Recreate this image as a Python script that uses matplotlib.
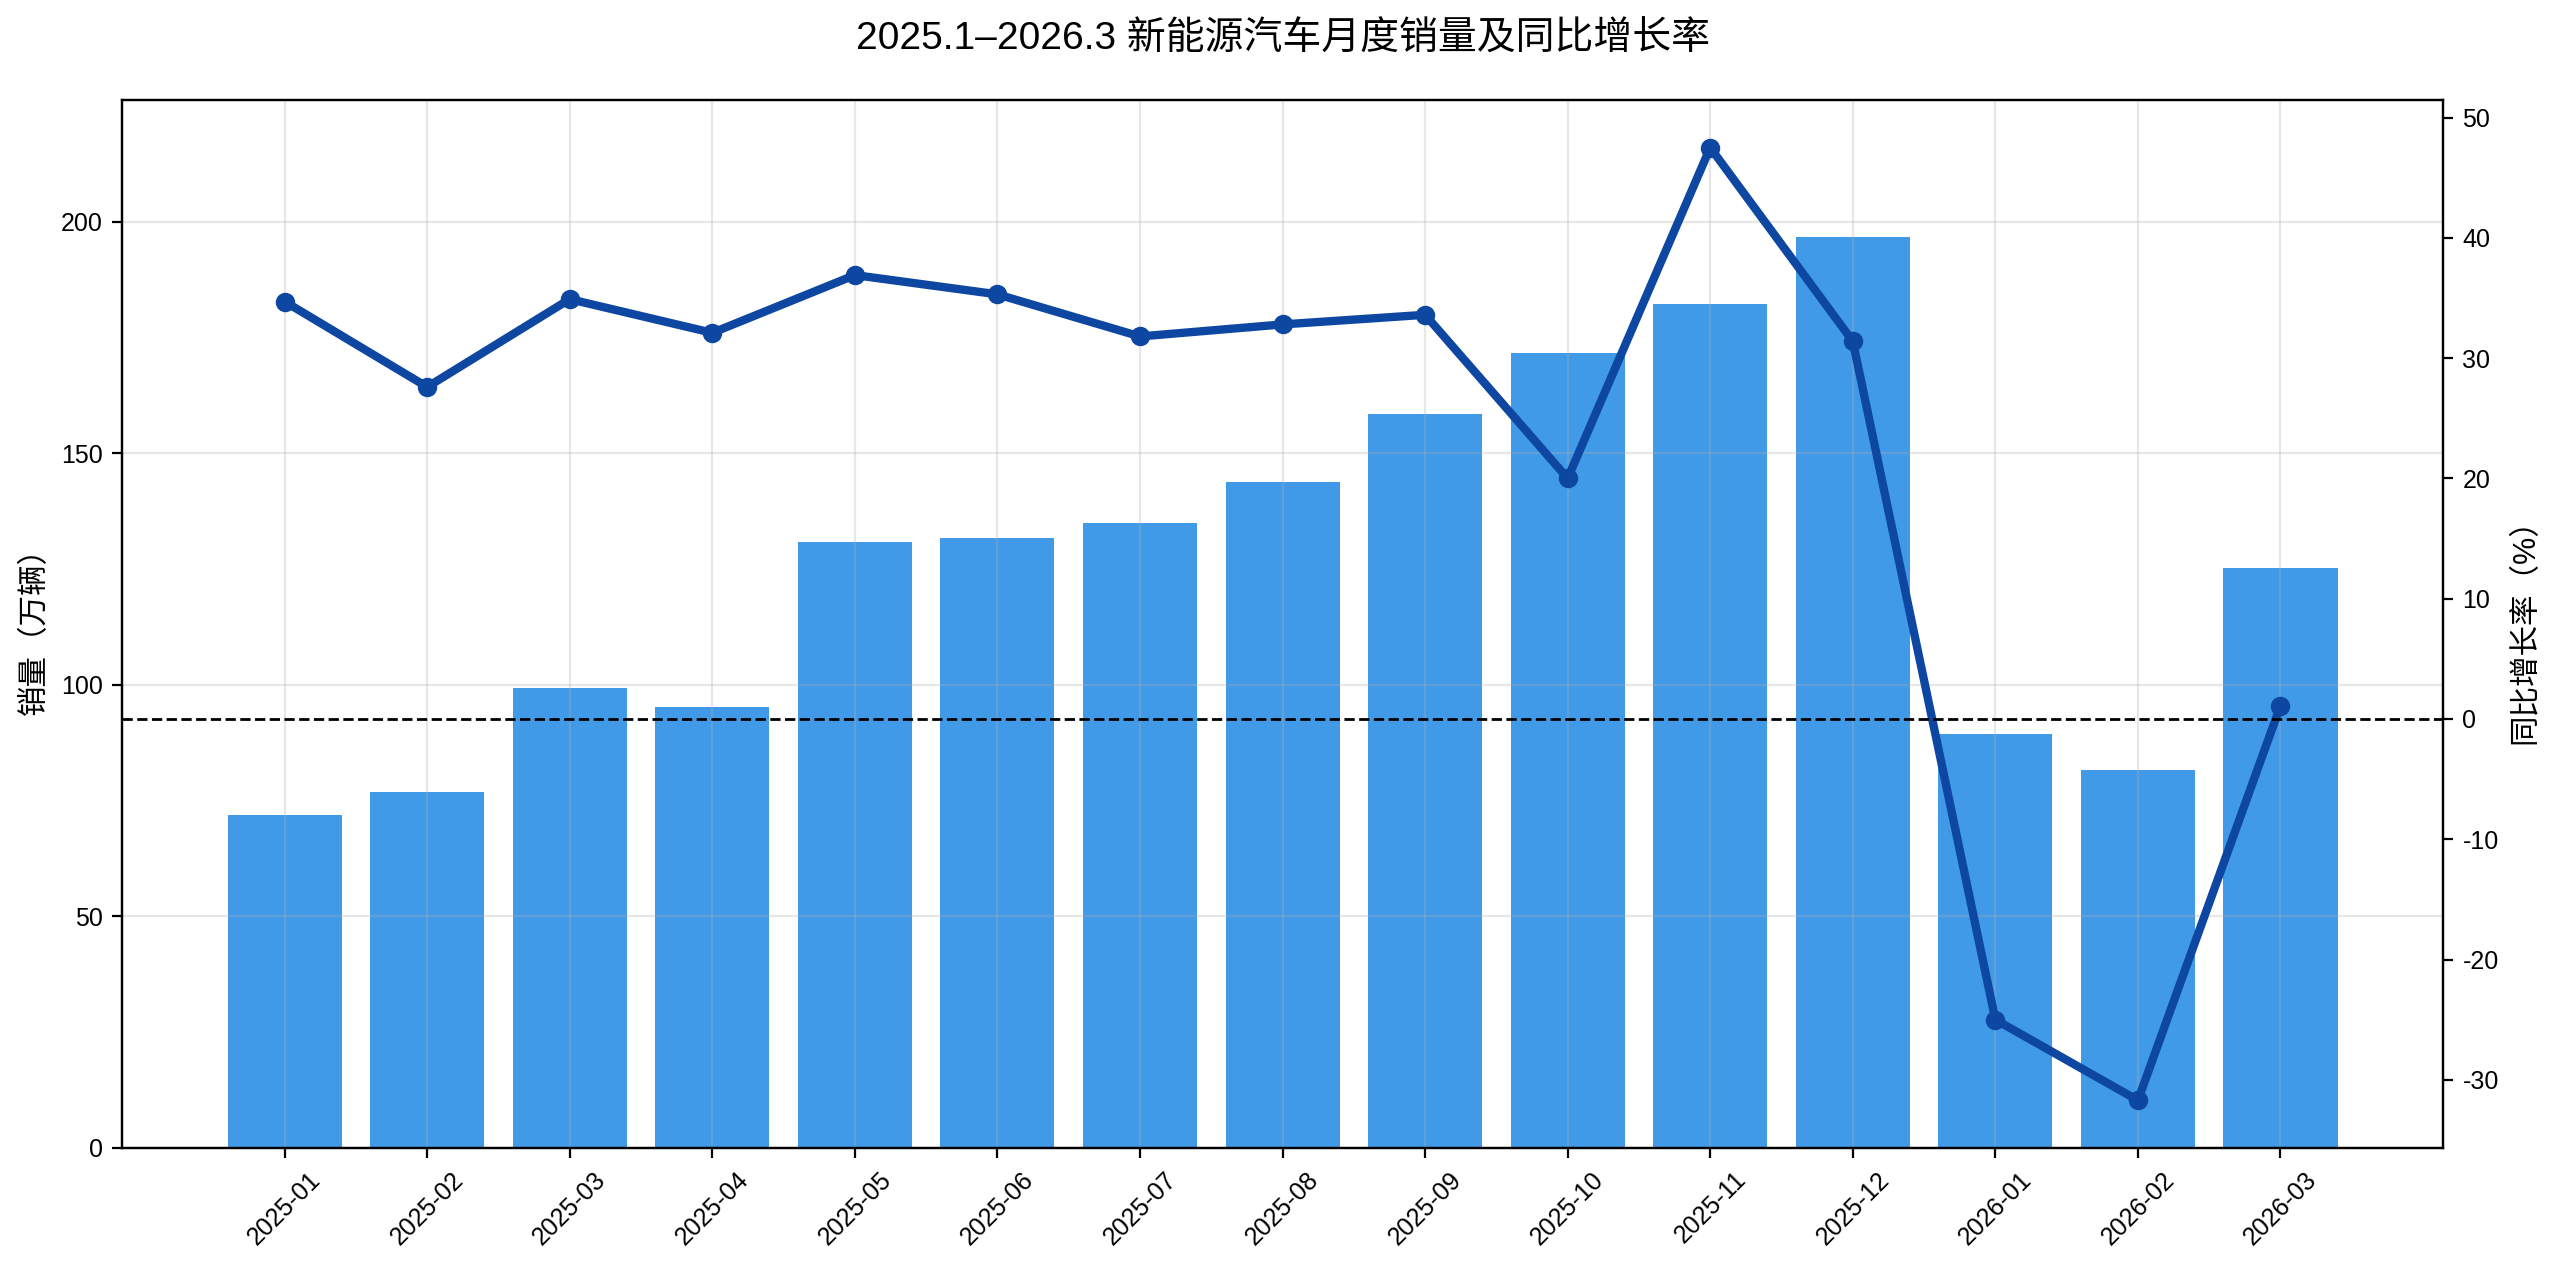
import matplotlib
matplotlib.use("Agg")
import matplotlib.pyplot as plt

plt.rcParams['font.family'] = ['Liberation Sans', 'Noto Sans CJK SC', 'DejaVu Sans']
plt.rcParams['axes.unicode_minus'] = False

months = ['2025-01', '2025-02', '2025-03', '2025-04', '2025-05', '2025-06', '2025-07',
          '2025-08', '2025-09', '2025-10', '2025-11', '2025-12', '2026-01', '2026-02', '2026-03']
sales = [71.8, 76.9, 99.3, 95.2, 130.8, 131.7, 134.9, 143.8, 158.4, 171.6, 182.3, 196.8,
         89.4, 81.6, 125.2]
yoy = [34.7, 27.6, 34.9, 32.1, 36.9, 35.3, 31.8, 32.8, 33.6, 20.0, 47.5, 31.4,
       -25.0, -31.7, 1.1]

title = '2025.1–2026.3 新能源汽车月度销量及同比增长率'
ylabel_left = '销量（万辆）'
ylabel_right = '同比增长率（%）'

fig = plt.figure(figsize=(12.8, 6.35), dpi=200)
ax1 = fig.add_axes([0.0477, 0.0961, 0.9066, 0.8252])
x = list(range(len(months)))
ax1.bar(x, sales, width=0.8, color='#1E88E5', alpha=0.85)
ax1.set_ylim(0, max(sales) * 1.15)
ax1.set_xticks(x)
ax1.set_xticklabels(months, rotation=45, ha='center', fontsize=9)
ax1.tick_params(axis='y', labelsize=9)
ax1.set_ylabel(ylabel_left, fontsize=11)
ax1.grid(True, alpha=0.3)

ax2 = ax1.twinx()
ax2.plot(x, yoy, color='#0D47A1', linewidth=3, marker='o', markersize=6)
ax2.axhline(0, color='black', linestyle='--', linewidth=1)
ax2.set_ylabel(ylabel_right, fontsize=11)
ax2.tick_params(axis='y', labelsize=9)

ax1.set_title(title, fontsize=14, pad=18)

fig.savefig('out.png', dpi=200)
